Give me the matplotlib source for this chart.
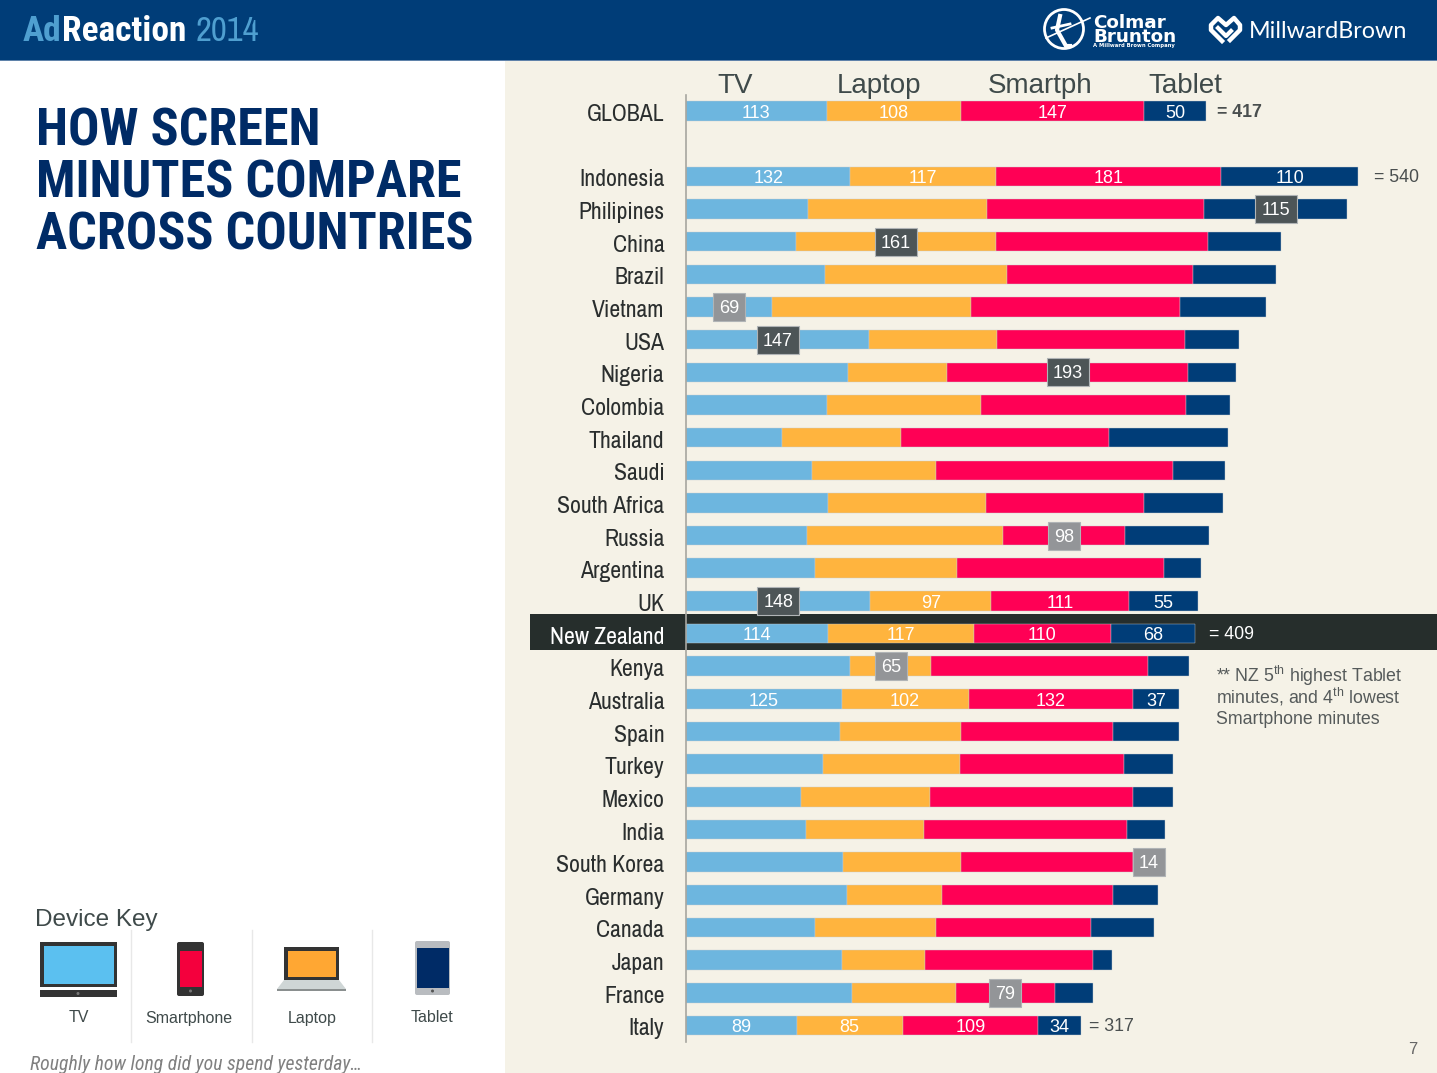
# AdReaction 2014 - screen minutes by country, stacked bars

import matplotlib
matplotlib.use("Agg")
import matplotlib.pyplot as plt
from matplotlib.patches import Rectangle, Circle, Polygon, FancyBboxPatch
from matplotlib.transforms import ScaledTranslation

plt.rcParams['font.family'] = ['Liberation Sans', 'DejaVu Sans']
plt.rcParams['mathtext.fontset'] = 'custom'
plt.rcParams['mathtext.rm'] = 'Liberation Sans'

NARROW = ['Archivo Narrow', 'Roboto Condensed', 'Liberation Sans', 'DejaVu Sans']
NARROW_BOLD = ['Roboto Condensed', 'Liberation Sans', 'DejaVu Sans']

countries = ["GLOBAL", "Indonesia", "Philipines", "China", "Brazil", "Vietnam", "USA",
             "Nigeria", "Colombia", "Thailand", "Saudi", "South Africa", "Russia",
             "Argentina", "UK", "New Zealand", "Kenya", "Australia", "Spain", "Turkey",
             "Mexico", "India", "South Korea", "Germany", "Canada", "Japan", "France", "Italy"]
tv = [113, 132, 98, 88, 112, 69, 147, 130, 113, 77, 101, 114, 97, 104, 148, 114, 132, 125,
      124, 110, 92, 96, 126, 129, 104, 125, 133, 89]
laptop = [108, 117, 144, 161, 146, 160, 103, 80, 124, 96, 100, 127, 158, 114, 97, 117, 65, 102,
          97, 110, 104, 95, 95, 77, 97, 67, 84, 85]
smartphone = [147, 181, 174, 170, 149, 168, 151, 193, 165, 167, 190, 127, 98, 166, 111, 110, 174, 132,
              122, 132, 163, 163, 138, 137, 124, 135, 79, 109]
tablet = [50, 110, 115, 59, 67, 69, 43, 39, 35, 95, 42, 63, 67, 30, 55, 68, 33, 37,
          53, 39, 32, 31, 14, 36, 51, 15, 31, 34]

series = [tv, laptop, smartphone, tablet]
colors = ['#6db6df', '#ffb43e', '#ff0055', '#003d78']
headers = ["TV", "Laptop", "Smartph", "Tablet"]

# rows with every segment labelled, and the printed totals
labelled = ["GLOBAL", "Indonesia", "UK", "New Zealand", "Australia", "Italy"]
totals = {"GLOBAL": 417, "Indonesia": 540, "New Zealand": 409, "Italy": 317}
total_gap = {"GLOBAL": 11, "Indonesia": 16, "New Zealand": 14, "Italy": 8}

# (country, series index) of the highest / lowest boxes
highest = [("Philipines", 3), ("China", 1), ("USA", 0), ("Nigeria", 2), ("UK", 0)]
lowest = [("Vietnam", 0), ("Russia", 2), ("Kenya", 1), ("South Korea", 3), ("France", 2)]

rows = [0] + list(range(2, 29))   # one empty row below GLOBAL
px_per_min = 1.245
px_per_row = 32.66

fig = plt.figure(figsize=(14.37, 10.73), dpi=100, facecolor='white')

# ---- page furniture, in pixel coordinates ----
bg = fig.add_axes([0, 0, 1, 1], zorder=0)
bg.set_xlim(0, 1437)
bg.set_ylim(1073, 0)
bg.axis('off')

bg.add_patch(Rectangle((505, 61), 932, 1012, color='#f5f2e7', lw=0))
bg.add_patch(Rectangle((0, 0), 1437, 60, color='#003d78', lw=0))
bg.add_patch(Rectangle((0, 60), 1437, 1.2, color='#5f82aa', lw=0))
bg.add_patch(Rectangle((530, 614), 907, 36, color='#262e2c', lw=0))

bg.text(23, 41, "Ad", color='#4f9fd0', fontsize=25.5, fontweight='bold', family=NARROW_BOLD)
bg.text(62, 41, "Reaction", color='white', fontsize=25.5, fontweight='bold', family=NARROW_BOLD)
bg.text(196, 41, "2014", color='#4f9fd0', fontsize=25, family=NARROW)

# logos
bg.add_patch(Circle((1064, 29), 19.5, fill=False, ec='white', lw=2))
bg.plot([1046, 1090], [38, 18], color='white', lw=1.2)
bg.plot([1060, 1057, 1066, 1070], [16, 30, 46, 46], color='white', lw=3)
bg.plot([1052, 1070], [28, 24], color='white', lw=2)
bg.text(1093, 41.5, "Colmar\nBrunton", color='white', fontsize=13.2, fontweight='bold',
        family='DejaVu Sans', va='baseline', linespacing=0.68)
bg.text(1093, 47, "A Millward Brown Company", color='white', fontsize=3.8, fontweight='bold',
        family='DejaVu Sans')
bg.plot([1222, 1211, 1211, 1218, 1226, 1234, 1240, 1240, 1230],
        [41, 30, 25, 18, 25, 18, 25, 30, 40], color='white', lw=3.2)
bg.plot([1218, 1226, 1231], [28, 36, 31], color='white', lw=3)
bg.text(1249, 38, "MillwardBrown", color='white', fontsize=16.8, family=['Lato', 'Open Sans'])

# heading
for yy, line in zip([146, 198, 250], ["HOW SCREEN", "MINUTES COMPARE", "ACROSS COUNTRIES"]):
    bg.text(36, yy, line, color='#002b66', fontsize=37.5, fontweight='bold', family=NARROW_BOLD)

# device key
bg.text(35, 926, "Device Key", color='#3f4a4a', fontsize=17.5)
for xx in [131, 251.5, 372]:
    bg.plot([xx, xx], [930, 1042], color='#e8e8e8', lw=1)
for xx, lab in zip([78.5, 189, 312, 432], ["TV", "Smartphone", "Laptop", "Tablet"]):
    bg.text(xx, 1018, lab, color='#3f4a4a', fontsize=11.5, ha='center', va='center')

# tv
bg.add_patch(Rectangle((40, 942), 77, 45, color='#333333', lw=0))
bg.add_patch(Rectangle((44, 946), 70, 38, color='#5bc0f0', lw=0))
bg.add_patch(Rectangle((40, 990), 77, 7, color='#333333', lw=0))
bg.add_patch(Circle((78, 993.5), 1.5, color='#777777', lw=0))
# phone
bg.add_patch(FancyBboxPatch((179, 944), 23, 50, boxstyle="round,pad=2", color='#333333', lw=0))
bg.add_patch(Rectangle((179.5, 950.5), 22, 36.5, color='#f4003d', lw=0))
bg.add_patch(Circle((190.5, 991), 1.5, color='#777777', lw=0))
# laptop
bg.add_patch(Rectangle((284, 947), 55, 33, color='#333333', lw=0))
bg.add_patch(Rectangle((287.5, 950.5), 48, 26.5, color='#ffa733', lw=0))
bg.add_patch(Polygon([(284, 980), (339, 980), (346, 989), (277, 989)], color='#cfd6d6', lw=0))
bg.add_patch(Rectangle((277, 989), 69, 2.2, color='#8a8f8f', lw=0))
# tablet
bg.add_patch(FancyBboxPatch((417, 943), 31, 50, boxstyle="round,pad=2", color='#b9bcc0', lw=0))
bg.add_patch(Rectangle((417, 947.5), 32, 40.5, color='#002b66', lw=0))
bg.add_patch(Circle((432.5, 991), 1.5, color='#555555', lw=0))

bg.text(30, 1070, "Roughly how long did you spend yesterday…", color='#808080', fontsize=14.2,
        style='italic', family=NARROW_BOLD)
bg.text(1413, 1049, "7", color='#666666', fontsize=12, ha='center', va='center')

for xx, lab in zip([735, 879, 1040, 1185], headers):
    bg.text(xx, 86, lab, color='#3f4a4a', fontsize=20, ha='center', va='center')

note_lines = [r"** NZ 5$^{\mathrm{th}}$ highest Tablet",
              r"minutes, and 4$^{\mathrm{th}}$ lowest",
              "Smartphone minutes"]
for yy, line in zip([682, 703, 724], note_lines):
    bg.text(1216, yy, line, color='#555a5a', fontsize=12.8)

# ---- the chart ----
ax = fig.add_axes([686 / 1437, 0, 751 / 1437, 1012 / 1073], zorder=1)
ax.patch.set_alpha(0)
ax.set_xlim(0, 751 / px_per_min)
ax.set_ylim((1073 - 111) / px_per_row, (61 - 111) / px_per_row)

left = [0] * len(countries)
for vals, col in zip(series, colors):
    ax.barh(rows, vals, left=left, height=19.5 / px_per_row, color=col,
            edgecolor='#c9cdd0', linewidth=0.3)
    for i, name in enumerate(countries):
        if name in labelled:
            ax.text(left[i] + vals[i] / 2, rows[i] + 0.07, str(vals[i]), color='white',
                    fontsize=13, ha='center', va='center')
    left = [a + b for a, b in zip(left, vals)]

for name, total in totals.items():
    i = countries.index(name)
    ax.text(left[i] + total_gap[name] / px_per_min, rows[i] + 0.04, "= %d" % total,
            color='white' if name == "New Zealand" else '#4a4f4f',
            fontsize=12.8, fontweight='bold' if name == "GLOBAL" else 'normal', va='center')

# highest / lowest boxes sit on the middle of their segment
for group, col in [(highest, '#4d5557'), (lowest, '#939598')]:
    for name, s in group:
        i = countries.index(name)
        val = series[s][i]
        start = sum(series[k][i] for k in range(s))
        w = (42 if val >= 100 else 32) / px_per_min
        x0 = max(start + val / 2 - w / 2, start)
        ax.add_patch(Rectangle((x0, rows[i] - 14 / px_per_row), w, 28 / px_per_row, facecolor=col,
                               edgecolor='#b0b4b6', linewidth=0.8, zorder=4))
        ax.text(x0 + w / 2, rows[i] + 0.05, str(val), color='white', fontsize=13,
                ha='center', va='center', zorder=5)

ax.set_yticks(rows)
ax.set_yticklabels(countries, family=NARROW, fontsize=17.1, color='#2a2e2e')
ax.get_yticklabels()[countries.index("New Zealand")].set_color('white')
ax.tick_params(axis='y', length=0, pad=15.5)
shift = ScaledTranslation(0, -1.5 / 100, fig.dpi_scale_trans)
for lab in ax.get_yticklabels():
    lab.set_transform(lab.get_transform() + shift)
ax.set_xticks([])
for side in ['top', 'right', 'bottom']:
    ax.spines[side].set_visible(False)
ax.spines['left'].set_color('#a6a6a0')
ax.spines['left'].set_linewidth(1.2)
ax.spines['left'].set_bounds((95 - 111) / px_per_row, (1042 - 111) / px_per_row)

fig.savefig("out.png", dpi=100)
